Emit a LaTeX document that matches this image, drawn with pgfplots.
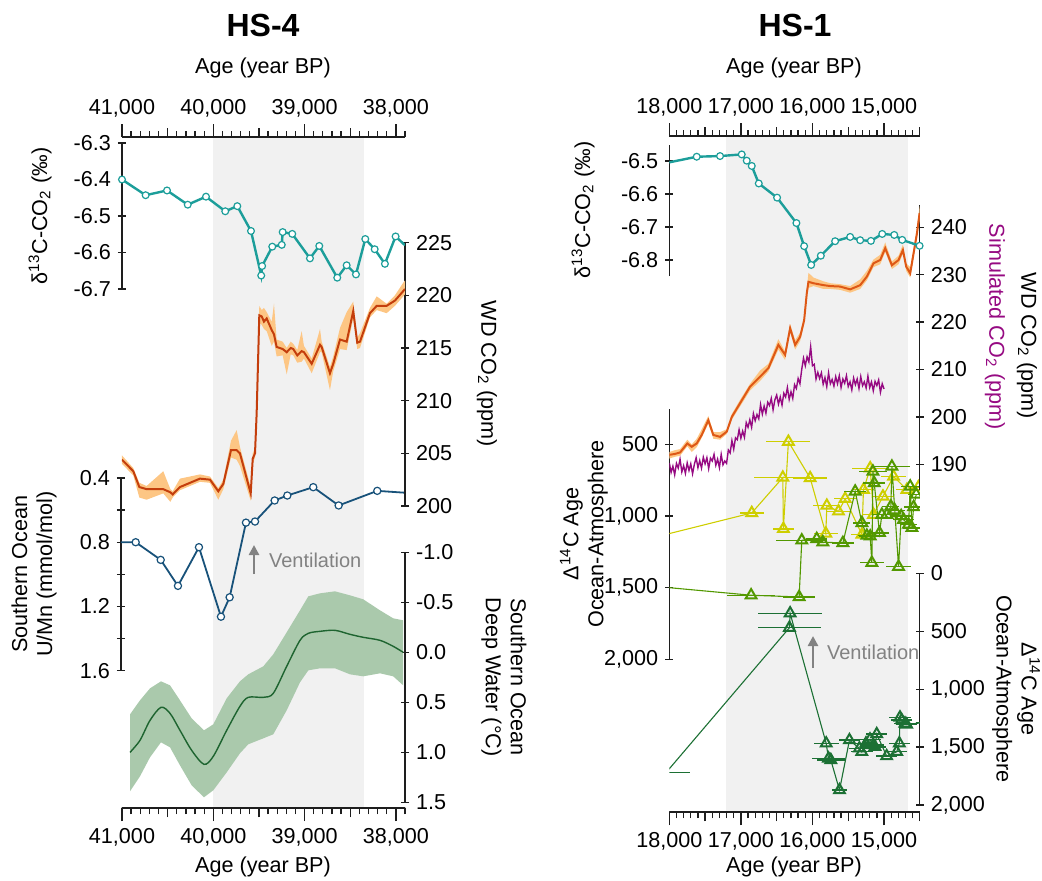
\documentclass[border=0pt]{standalone}
\usepackage{pgfplots}
\pgfplotsset{compat=1.18}
\usepackage{pgfplotstable}
\usetikzlibrary{arrows.meta}
\usepackage{fontspec}
\setmainfont{Liberation Sans}

\definecolor{teal1}{RGB}{28,158,154}
\definecolor{co2a}{RGB}{196,62,12}
\definecolor{co2b}{RGB}{222,88,22}
\definecolor{band}{RGB}{253,198,132}
\definecolor{umn}{RGB}{24,82,122}
\definecolor{tline}{RGB}{30,100,48}
\definecolor{tband}{RGB}{170,201,172}
\definecolor{simco}{RGB}{150,10,130}
\definecolor{yel}{RGB}{206,206,0}
\definecolor{mgrn}{RGB}{82,152,0}
\definecolor{dgrn}{RGB}{28,112,52}
\definecolor{shade}{RGB}{241,241,241}
\definecolor{axc}{RGB}{30,30,30}
\definecolor{vent}{RGB}{130,130,130}

\newcommand{\lab}{\fontsize{10.8}{12.5}\selectfont}

\pgfplotsset{
  noarr/.style={axis line style={-, line width=0.65pt, axc},
    every inner x axis line/.append style={-},
    every outer x axis line/.append style={-},
    every inner y axis line/.append style={-},
    every outer y axis line/.append style={-},
    every axis x line/.append style={-},
    every axis y line/.append style={-}},
  base/.style={scale only axis, anchor=north west,
    tick style={line width=0.65pt, axc},
    tick align=outside, major tick length=4pt,
    scaled x ticks=false, scaled y ticks=false,
    tick label style={font=\lab},
    /pgf/number format/assume math mode=true},
  p4/.style={base, width=141.5pt, xmin=37900, xmax=41000, x dir=reverse},
  p1/.style={base, width=125.25pt, xmin=14500, xmax=18000, x dir=reverse},
  yl/.style={axis y line=left, axis x line=none, noarr},
  yr/.style={axis y line=right, axis x line=none, noarr},
  xbox/.style={hide y axis, xtick pos=both,
    axis line style={line width=0.65pt, axc}},
  xt4/.style={xtick={38000,39000,40000,41000},
    xticklabels={{38,000},{39,000},{40,000},{41,000}},
    minor xtick={37900,38000,...,41000},
    major tick length=6.5pt, minor tick length=3pt,
    extra x ticks={38500,39500,40500}, extra x tick labels={},
    extra x tick style={major tick length=4.5pt}},
  xt1/.style={xtick={15000,16000,17000,18000},
    xticklabels={{15,000},{16,000},{17,000},{18,000}},
    minor xtick={14500,14600,...,18000},
    major tick length=6.5pt, minor tick length=3pt,
    extra x ticks={14500,15500,16500,17500}, extra x tick labels={},
    extra x tick style={major tick length=4.5pt}},
  tri/.style={#1, line width=0.55pt, mark=triangle, mark size=3.1pt,
    mark options={solid, line width=1pt},
    error bars/.cd, x dir=both, x explicit, error mark=none,
    error bar style={line width=0.65pt, #1}},
}

\begin{document}

% HS-4 data
\pgfplotstableread{
age v
41000 -6.400
40741 -6.443
40507 -6.430
40280 -6.469
40080 -6.447
39869 -6.487
39737 -6.473
39587 -6.541
39475 -6.663
39465 -6.637
39354 -6.584
39250 -6.579
39240 -6.544
39135 -6.549
38941 -6.616
38839 -6.582
38642 -6.669
38539 -6.635
38437 -6.660
38335 -6.563
38232 -6.591
38120 -6.631
38003 -6.556
}\dA

\pgfplotstableread{
age v lo hi
41000 204.4 204.0 204.8
40876 203.3 202.9 203.6
40810 201.8 200.8 202.2
40730 201.6 200.6 201.9
40548 201.6 201.2 203.3
40470 201.3 200.4 201.6
40445 201.1 200.8 201.4
40365 201.8 201.5 202.6
40146 202.6 202.3 203.0
40036 202.5 202.2 202.8
39945 201.4 200.6 201.7
39890 202.1 201.6 202.5
39806 205.3 204.6 206.2
39744 205.3 204.4 207.2
39708 205.0 203.8 205.6
39590 201.2 200.5 201.8
39568 204.5 204.0 205.0
39543 205.0 204.6 205.5
39525 208.8 208.4 209.2
39496 218.1 217.4 219.0
39470 218.0 217.2 218.6
39445 217.5 216.8 218.8
39415 217.8 216.6 218.4
39360 216.7 215.2 217.5
39335 216.3 215.6 219.2
39306 215.1 214.2 215.8
39240 214.9 214.3 215.6
39196 214.6 212.5 215.0
39152 215.0 214.4 215.6
39124 214.9 214.3 215.4
39080 214.3 213.6 214.8
39032 214.7 213.7 216.6
39007 214.6 214.0 215.2
38922 213.5 212.6 214.0
38831 215.3 214.6 216.8
38813 215.1 214.6 215.6
38722 212.6 211.0 213.2
38686 213.5 212.8 214.2
38612 215.8 214.9 216.9
38539 215.6 214.8 218.4
38467 218.5 217.8 219.4
38423 215.5 214.9 216.0
38393 215.6 215.0 216.4
38284 218.3 217.9 218.8
38210 219.0 218.6 219.9
38101 219.0 218.3 219.2
38010 219.5 219.0 220.0
37919 220.4 219.9 221.2
37900 220.6 220.1 221.4
}\wA

\pgfplotstableread{
age v
41100 0.800
40839 0.800
40565 0.910
40376 1.072
40146 0.831
39905 1.264
39810 1.143
39631 0.678
39532 0.671
39317 0.540
39178 0.509
38894 0.457
38616 0.571
38193 0.480
37800 0.495
}\uA

\pgfplotstableread{
age t a b
40912 1.00 0.62 1.39
40803 0.88 0.48 1.24
40693 0.68 0.36 1.05
40573 0.55 0.29 0.90
40474 0.61 0.33 0.95
40365 0.78 0.48 1.13
40237 0.98 0.66 1.33
40102 1.12 0.78 1.45
40000 1.04 0.72 1.38
39853 0.78 0.46 1.20
39708 0.54 0.29 1.01
39617 0.45 0.22 0.92
39452 0.45 0.14 0.86
39343 0.41 0.02 0.82
39196 0.14 -0.20 0.58
39050 -0.12 -0.42 0.30
38959 -0.19 -0.56 0.18
38831 -0.21 -0.59 0.16
38667 -0.22 -0.61 0.16
38503 -0.18 -0.57 0.22
38357 -0.15 -0.53 0.24
38174 -0.12 -0.42 0.21
38029 -0.06 -0.34 0.24
37920 0.00 -0.32 0.33
}\tA

% HS-1 data
\pgfplotstableread{
age v
17617 -6.487
17291 -6.485
16988 -6.480
16918 -6.499
16848 -6.515
16750 -6.568
16494 -6.611
16224 -6.688
16116 -6.758
16018 -6.815
15883 -6.787
15683 -6.743
15473 -6.730
15333 -6.740
15183 -6.742
15025 -6.721
14857 -6.724
14746 -6.739
14503 -6.757
}\dB

\pgfplotstableread{
age v lo hi
18000 192.0 191.2 192.6
17920 192.2 191.6 193.0
17850 192.5 191.8 193.2
17748 194.4 193.8 195.2
17687 193.7 192.6 194.2
17617 194.4 193.6 195.4
17547 196.2 195.6 197.4
17455 199.3 198.6 200.2
17385 196.2 195.4 196.8
17291 195.8 195.2 196.8
17197 196.9 196.4 197.4
17127 200.0 199.4 200.6
17011 202.9 202.2 203.6
16871 206.4 205.6 207.0
16731 208.5 207.6 209.8
16615 210.3 209.6 211.2
16476 215.2 214.2 216.4
16382 213.1 212.0 213.8
16312 218.7 218.0 219.6
16242 215.2 214.2 216.2
16172 216.9 216.0 217.8
16116 220.4 219.6 221.0
16079 226.1 225.2 227.0
16056 228.5 227.2 230.4
15986 228.2 227.6 229.4
15846 227.8 227.0 228.6
15750 227.6 227.0 228.2
15613 227.5 226.8 228.0
15473 226.9 226.2 227.6
15333 227.8 227.0 229.0
15240 229.6 228.8 230.8
15147 232.4 231.6 233.2
15053 233.1 232.2 234.2
14983 235.6 234.8 236.8
14890 232.0 231.2 232.8
14797 233.1 232.2 234.0
14736 235.2 234.4 236.4
14690 231.7 230.8 232.4
14634 230.3 229.4 231.6
14587 234.5 233.6 235.6
14540 238.7 237.8 240.0
14503 243.0 241.6 244.5
}\wB

\pgfplotstableread{
age v
18000 190.3
17975 188.3
17950 189.6
17925 187.8
17900 190.2
17875 189.2
17850 191.1
17825 188.4
17800 189.7
17775 188.1
17750 190.3
17725 188.7
17700 190.1
17675 188.0
17650 190.0
17625 191.4
17600 189.3
17575 190.8
17550 189.2
17525 191.5
17500 190.1
17475 191.4
17450 189.1
17425 191.3
17400 190.7
17375 192.1
17350 189.8
17325 191.1
17300 189.3
17275 192.1
17250 189.9
17225 190.7
17200 190.2
17175 193.0
17150 192.4
17125 195.0
17100 193.2
17075 195.6
17050 195.2
17025 197.3
17000 195.5
16975 197.0
16950 195.7
16925 198.8
16900 197.8
16875 199.4
16850 197.8
16825 200.7
16800 199.2
16775 200.5
16750 199.6
16725 202.6
16700 200.6
16675 202.3
16650 200.8
16625 203.1
16600 202.4
16575 203.9
16550 201.5
16525 203.6
16500 204.6
16475 202.7
16450 204.2
16425 202.5
16400 205.0
16375 204.2
16350 206.2
16325 203.7
16300 205.3
16275 203.9
16250 206.8
16225 206.0
16200 208.1
16175 207.0
16150 210.0
16125 212.4
16100 210.8
16075 212.7
16050 211.6
16025 214.8
16000 210.8
15975 211.1
15950 208.0
15925 209.4
15900 208.1
15875 209.3
15850 206.9
15825 208.3
15800 206.4
15775 209.3
15750 207.0
15725 207.9
15700 206.5
15675 208.5
15650 207.0
15625 208.7
15600 206.2
15575 208.0
15550 207.1
15525 208.7
15500 206.4
15475 207.4
15450 205.7
15425 208.2
15400 206.8
15375 208.0
15350 206.0
15325 208.5
15300 206.6
15275 207.4
15250 206.1
15225 208.6
15200 206.2
15175 207.4
15150 205.5
15125 207.5
15100 206.6
15075 207.8
15050 205.2
15025 207.0
15000 205.9
}\sB

\pgfplotstableread{
age v e
18400 1173 0
16848 979 168
16414 732 396
16406 1090 152
16336 482 308
16032 736 238
15813 1123 163
15799 928 190
15636 968 163
15543 880 150
15309 1130 150
15287 817 150
15193 667 256
15147 991 150
15015 864 150
14867 725 180
14680 817 150
14520 799 150
}\yC

\pgfplotstableread{
age v e
18200 1491 0
16857 1553 338
16186 1565 220
16149 1170 354
15940 1160 150
15855 1183 180
15575 1188 150
15403 829 150
15309 1049 120
15240 1137 120
15193 1142 150
15170 1326 170
15155 690 200
15137 771 150
15063 1118 130
15030 991 130
14960 991 150
14904 933 120
14890 655 250
14850 960 140
14797 1354 170
14760 1000 150
14727 1026 150
14657 1060 120
14634 794 130
14610 1083 120
14587 938 130
14550 850 120
}\gC

\pgfplotstableread{
age v e
18048 1722 340
16322 470 443
16312 345 443
15808 1468 175
15776 1598 233
15743 1612 200
15622 1871 105
15483 1440 150
15344 1511 150
15311 1541 150
15252 1468 150
15196 1434 150
15150 1483 150
15126 1498 150
15102 1388 150
14963 1578 150
14823 1541 150
14786 1468 150
14777 1244 150
14754 1267 150
14707 1296 150
14684 1305 150
14400 1285 150
}\dG

\begin{tikzpicture}
\path[use as bounding box] (0pt,0pt) rectangle (521pt,-440pt);

% ---------------- HS-4 ----------------
\begin{axis}[p4, xt4, at={(61pt,-68.5pt)}, height=335.5pt, ymin=0, ymax=1,
    xbox, xticklabel pos=right]
  \addplot[fill=shade, draw=none] coordinates {(40000,0) (38350,0) (38350,1) (40000,1)} --cycle;
\end{axis}
\begin{axis}[p4, xt4, at={(61pt,-68.5pt)}, height=335.5pt, ymin=0, ymax=1,
    xbox, xticklabel pos=left]
  \addplot[draw=none] coordinates {(40000,0.4) (39000,0.6)};
\end{axis}

\begin{axis}[p4, yr, at={(61pt,-276.15pt)}, height=125pt, ymin=-1, ymax=1.5,
    y dir=reverse, ytick={-1,-0.5,0,0.5,1,1.5},
    yticklabels={-1.0,-0.5,0.0,0.5,1.0,1.5}]
  \addplot[draw=none, stack plots=y, forget plot] table[x=age,y=a]{\tA};
  \addplot[fill=tband, draw=none, stack plots=y] table[x=age,y expr=\thisrow{b}-\thisrow{a}]{\tA} \closedcycle;
  \addplot[tline, line width=0.7pt, smooth, stack plots=false] table[x=age,y=t]{\tA};
\end{axis}

\begin{axis}[p4, yl, at={(60.5pt,-239pt)}, height=96.3pt, ymin=0.4, ymax=1.6,
    y dir=reverse, ytick={0.4,0.6,0.8,1.0,1.2,1.4,1.6},
    yticklabels={0.4,{},0.8,{},1.2,{},1.6}, clip marker paths=true]
  \addplot[umn, line width=0.9pt, mark=*, mark size=1.8pt,
    mark options={fill=white, line width=0.6pt}] table[x=age,y=v]{\uA};
\end{axis}

\begin{axis}[p4, yr, at={(61pt,-121.3pt)}, height=131.7pt, ymin=200, ymax=225,
    ytick={200,205,210,215,220,225}]
  \addplot[draw=none, stack plots=y, forget plot] table[x=age,y=lo]{\wA};
  \addplot[fill=band, draw=none, stack plots=y] table[x=age,y expr=\thisrow{hi}-\thisrow{lo}]{\wA} \closedcycle;
  \addplot[co2a, line width=1pt, stack plots=false] table[x=age,y=v]{\wA};
\end{axis}

\begin{axis}[p4, yl, at={(61pt,-71.5pt)}, height=73pt, ymin=-6.7, ymax=-6.3,
    ytick={-6.7,-6.6,-6.5,-6.4,-6.3},
    yticklabels={-6.7,-6.6,-6.5,-6.4,-6.3}]
  \addplot[teal1, line width=1.2pt] coordinates {(38003,-6.556) (37900,-6.580)};
  \addplot[teal1, line width=1.2pt, mark=*, mark size=1.7pt,
    mark options={fill=white, line width=0.6pt}] table[x=age,y=v]{\dA};
\end{axis}

% ---------------- HS-1 ----------------
\begin{axis}[p1, xt1, at={(334.65pt,-68pt)}, height=338pt, ymin=0, ymax=1,
    xbox, xticklabel pos=right]
  \addplot[fill=shade, draw=none] coordinates {(17211,0) (14671,0) (14671,1) (17211,1)} --cycle;
\end{axis}
\begin{axis}[p1, xt1, at={(334.65pt,-68pt)}, height=338pt, ymin=0, ymax=1,
    xbox, xticklabel pos=left]
  \addplot[draw=none] coordinates {(16000,0.4) (15000,0.6)};
\end{axis}

\begin{axis}[p1, yr, at={(334.65pt,-286.65pt)}, height=115.85pt, ymin=0, ymax=2000,
    y dir=reverse, ytick={0,500,1000,1500,2000},
    yticklabels={0,500,{1,000},{1,500},{2,000}}, clip marker paths=true]
  \addplot[tri=dgrn] table[x=age, y=v, x error=e]{\dG};
\end{axis}

\begin{axis}[p1, yl, at={(334.65pt,-204.5pt)}, height=125.15pt, ymin=254, ymax=2000,
    y dir=reverse, ytick={500,1000,1500,2000},
    yticklabels={500,{1,000},{1,500},{2,000}}, clip marker paths=true]
  \addplot[tri=yel] table[x=age, y=v, x error=e]{\yC};
  \addplot[tri=mgrn] table[x=age, y=v, x error=e]{\gC};
\end{axis}

\begin{axis}[p1, yr, at={(334.65pt,-102.5pt)}, height=142.5pt, ymin=184.58, ymax=244.7,
    ytick={190,200,210,220,230,240}]
  \addplot[simco, line width=0.7pt] table[x=age,y=v]{\sB};
  \addplot[draw=none, stack plots=y, forget plot] table[x=age,y=lo]{\wB};
  \addplot[fill=band, draw=none, stack plots=y] table[x=age,y expr=\thisrow{hi}-\thisrow{lo}]{\wB} \closedcycle;
  \addplot[co2b, line width=1pt, stack plots=false] table[x=age,y=v]{\wB};
\end{axis}

\begin{axis}[p1, yl, at={(334.65pt,-72.5pt)}, height=65.5pt, ymin=-6.8485, ymax=-6.4515,
    ytick={-6.8,-6.7,-6.6,-6.5},
    yticklabels={-6.8,-6.7,-6.6,-6.5}]
  \addplot[teal1, line width=1.2pt] coordinates {(18000,-6.504) (17617,-6.487)};
  \addplot[teal1, line width=1.2pt, mark=*, mark size=1.7pt,
    mark options={fill=white, line width=0.6pt}] table[x=age,y=v]{\dB};
\end{axis}

% ---------------- labels ----------------
\begin{scope}[x=0.5pt, y=-0.5pt]
  \node[font=\fontsize{16}{18}\selectfont\bfseries] at (263,25) {HS-4};
  \node[font=\fontsize{16}{18}\selectfont\bfseries] at (795,25) {HS-1};
  \node[font=\lab] at (263,68) {Age (year BP)};
  \node[font=\lab] at (794,68) {Age (year BP)};
  \node[font=\lab] at (263,867) {Age (year BP)};
  \node[font=\lab] at (794,867) {Age (year BP)};

  \node[rotate=90, font=\lab] at (40,216) {δ\textsuperscript{13}C-CO\textsubscript{2} (‰)};
  \node[rotate=90, font=\lab, align=center] at (34,574) {Southern Ocean\\U/Mn (mmol/mol)};
  \node[rotate=-90, font=\lab] at (487,374) {WD CO\textsubscript{2} (ppm)};
  \node[rotate=-90, font=\lab, align=center] at (504,677) {Southern Ocean\\Deep Water (°C)};

  \node[rotate=90, font=\lab] at (583,210) {δ\textsuperscript{13}C-CO\textsubscript{2} (‰)};
  \node[rotate=90, font=\lab, align=center] at (584,534) {Δ\textsuperscript{14}C Age\\Ocean-Atmosphere};
  \node[rotate=-90, font=\lab, text=simco] at (995,327) {Simulated CO\textsubscript{2} (ppm)};
  \node[rotate=-90, font=\lab] at (1027,346) {WD CO\textsubscript{2} (ppm)};
  \node[rotate=-90, font=\lab, align=center] at (1016,689) {Δ\textsuperscript{14}C Age\\Ocean-Atmosphere};

  \draw[vent, line width=1.4pt, -{Triangle[length=5pt,width=5pt]}] (254,574) -- (254,545);
  \node[font=\fontsize{10}{12}\selectfont, text=vent, anchor=west] at (262,560) {Ventilation};
  \draw[vent, line width=1.4pt, -{Triangle[length=5pt,width=5pt]}] (813,668) -- (813,636);
  \node[font=\fontsize{10}{12}\selectfont, text=vent, anchor=west] at (820,652) {Ventilation};
\end{scope}
\end{tikzpicture}
\end{document}
